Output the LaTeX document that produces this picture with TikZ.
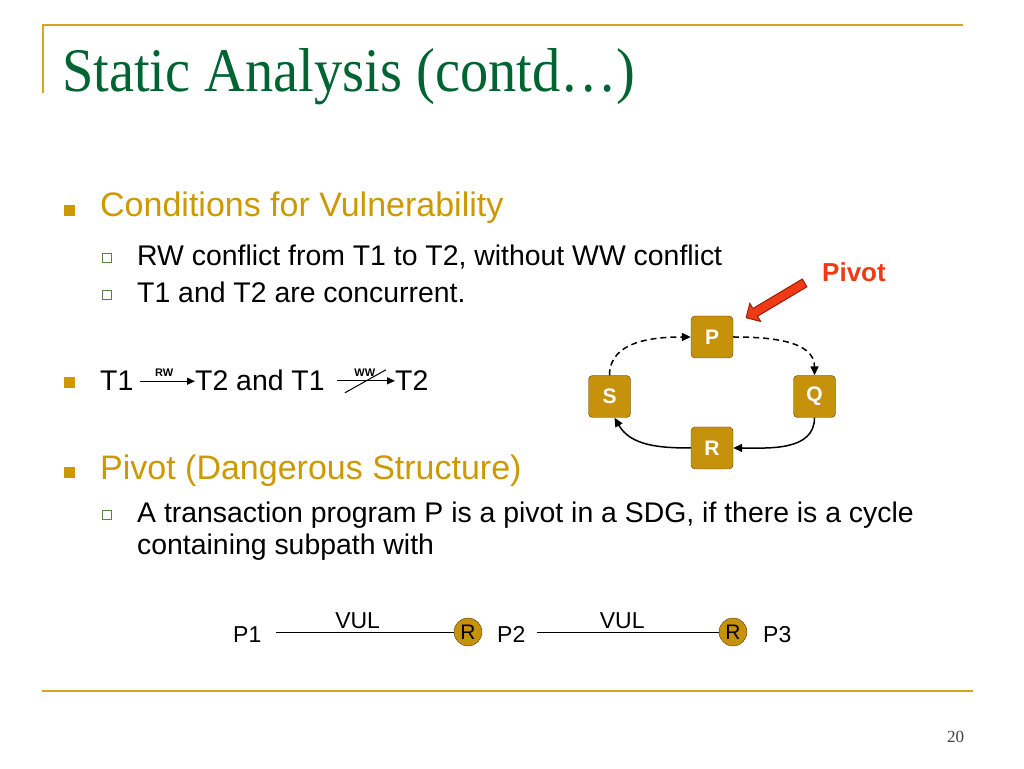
\documentclass[tikz,border=0pt]{standalone}
\usepackage{fontspec}
\setmainfont{Liberation Sans}
\newfontfamily\titlefont[FakeStretch=0.91]{Liberation Serif}
\newfontfamily\numfont{Liberation Serif}
\usetikzlibrary{arrows.meta,shapes.arrows}
\definecolor{slidegold}{RGB}{214,166,32}
\definecolor{headgold}{RGB}{204,153,0}
\definecolor{titlegreen}{RGB}{0,100,50}
\definecolor{boxgold}{RGB}{198,146,12}
\definecolor{boxedge}{RGB}{90,60,10}
\definecolor{pivred}{RGB}{240,58,22}
\definecolor{arredge}{RGB}{150,30,10}
\definecolor{subgreen}{RGB}{90,130,70}
\newcommand{\fs}[1]{\fontsize{#1}{#1}\selectfont}
\tikzset{
  txt/.style={anchor=base west, inner sep=0pt},
  head/.style={txt, text=headgold, font=\fs{34}},
  sub/.style={txt, font=\fs{28.4}},
  lbl/.style={above=4pt, inner sep=0pt, font=\bfseries\fs{11}},
  tbox/.style={draw=boxedge, fill=boxgold, rounded corners=4pt, minimum size=42pt,
    inner sep=0pt, text=white, font=\bfseries\fs{21}},
  rcirc/.style={circle, draw=boxedge, fill=boxgold, minimum size=28pt, inner sep=0pt, font=\fs{21}},
  cyc/.style={-{Triangle[length=9pt,width=8pt]}, line width=1.5pt},
  dsh/.style={dash pattern=on 6pt off 4pt},
  tarr/.style={-{Triangle[length=8pt,width=7pt]}, line width=1.2pt},
  subsq/.style={draw=subgreen, fill=white, line width=1pt},
}
\begin{document}
\begin{tikzpicture}[x=1pt,y=1pt]
\useasboundingbox (0,0) rectangle (1024,768);
% frame
\draw[slidegold, line width=2pt] (43,675) -- (43,743) -- (963,743);
\draw[slidegold, line width=2pt] (42,77) -- (973,77);
\node[txt, text=titlegreen, font=\titlefont\fs{62}] (title) at (62,676) {Static Analysis (contd…)};
\node[txt, text=black!75, font=\numfont\fs{17}] (pgno) at (947,26) {20};
% bullets
\foreach \y in {557,385,295} \fill[headgold] (63.5,\y-5.5) rectangle +(11,11);
\foreach \y in {510,473,253} \filldraw[subsq] (102.5,\y-4.5) rectangle +(9,9);
\node[head] (cond) at (100,551) {Conditions for Vulnerability};
\node[sub] (rwc) at (137,502) {RW conflict from T1 to T2, without WW conflict};
\node[sub] (conc) at (137,465) {T1 and T2 are concurrent.};
\node[sub] (t1a) at (100,377) {T1};
\node[sub] (t2a) at (195,377) {T2 and T1};
\node[sub] (t2b) at (395,377) {T2};
\draw[tarr, shorten <=6pt] (t1a.east) -- node[lbl]{RW} (t1a.east -| t2a.west);
\draw[tarr, shorten <=12pt] (t2a.east) -- node[lbl, pos=0.57]{WW} coordinate[pos=0.57] (ww) (t2a.east -| t2b.west);
\draw[line width=1pt] ([shift={(-20,-12)}]ww) -- ([shift={(21,11)}]ww);
\node[head] (piv) at (100,288) {Pivot (Dangerous Structure)};
\node[sub] (def1) at (137,245) {A transaction program P is a pivot in a SDG, if there is a cycle};
\node[sub] (def2) at (137,213) {containing subpath with};
% dangerous structure
\node[tbox] (P) at (712,431) {P};
\node[tbox] (S) at (609.5,371.5) {S};
\node[tbox] (Q) at (814.5,371.5) {Q};
\node[tbox] (R) at (712,320) {R};
\draw[cyc, dsh] (S.north) to[out=90,in=180] (P.west);
\draw[cyc, dsh] (P.east) to[out=0,in=90] (Q.north);
\draw[cyc] (Q.south) to[out=-90,in=0] (R.east);
\draw[cyc] (R.west) to[out=180,in=-60] ([xshift=5pt]S.south);
\node[txt, text=pivred, font=\bfseries\fs{26}] (pivtxt) at (822,486) {Pivot};
\node[single arrow, draw=arredge, fill=pivred, line width=1pt, rotate=210.8,
  minimum height=68pt, minimum width=0pt, single arrow head extend=6pt,
  single arrow head indent=0pt, inner xsep=0pt, inner ysep=4pt] (parr) at (777.3,468.8) {};
% subpath
\node[sub, font=\fs{23}] (p1) at (233,125) {P1};
\node[rcirc] (r1) at (468,136) {R};
\node[sub, font=\fs{23}] (p2) at (497,125) {P2};
\node[rcirc] (r2) at (733,136) {R};
\node[sub, font=\fs{23}] (p3) at (763,125) {P3};
\draw[line width=1pt, shorten <=14pt] (p1.east |- r1.west) -- node[above, inner sep=3pt, font=\fs{23}]{VUL} (r1.west);
\draw[line width=1pt, shorten <=11pt] (p2.east |- r2.west) -- node[above, inner sep=3pt, font=\fs{23}]{VUL} (r2.west);
\end{tikzpicture}
\end{document}
